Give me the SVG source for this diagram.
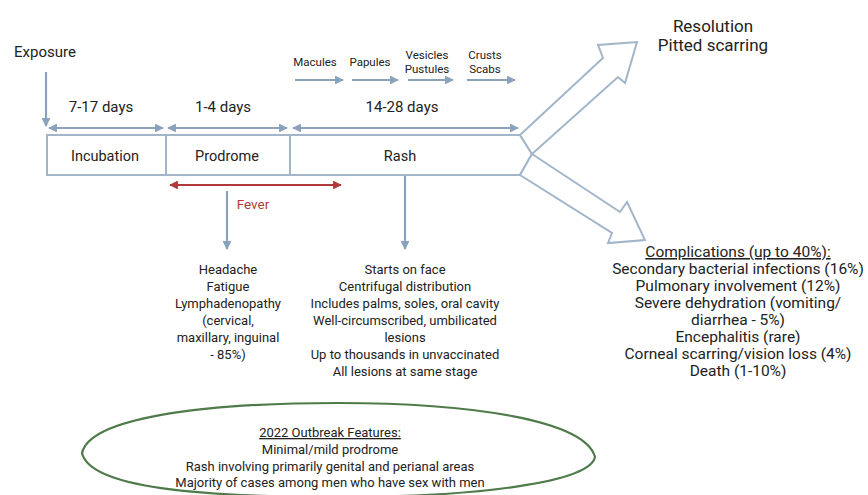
<svg xmlns="http://www.w3.org/2000/svg" width="868" height="495" viewBox="0 0 868 495">
<defs>
<marker id="ah" viewBox="0 0 10 10" refX="9" refY="5" markerWidth="4" markerHeight="4" orient="auto-start-reverse" markerUnits="strokeWidth">
<path d="M0,0 L10,5 L0,10 z" fill="#8aa2bc"/>
</marker>
<marker id="ahr" viewBox="0 0 10 10" refX="9" refY="5" markerWidth="4" markerHeight="4" orient="auto-start-reverse" markerUnits="strokeWidth">
<path d="M0,0 L10,5 L0,10 z" fill="#b03a3a"/>
</marker>
<style>
.t{font-family:Roboto,"Liberation Sans",Arial,sans-serif;fill:#222;text-anchor:middle}
.ln{stroke:#8aa2bc;stroke-width:2.2;fill:none}
.ol{stroke:#a2b5c9;stroke-width:2;fill:#fff;stroke-linejoin:miter}
.u{text-decoration:underline}
</style>
</defs>
<rect width="868" height="495" fill="#fff"/>

<g id="connectors">
<line class="ln" x1="46" y1="72" x2="46" y2="126" marker-end="url(#ah)"/>
<line class="ln" x1="49" y1="128" x2="163" y2="128" marker-start="url(#ah)" marker-end="url(#ah)"/>
<line class="ln" x1="168" y1="128" x2="287" y2="128" marker-start="url(#ah)" marker-end="url(#ah)"/>
<line class="ln" x1="293" y1="128" x2="518" y2="128" marker-start="url(#ah)" marker-end="url(#ah)"/>
<line class="ln" x1="295" y1="80" x2="343" y2="80" marker-end="url(#ah)"/>
<line class="ln" x1="352" y1="80" x2="398" y2="80" marker-end="url(#ah)"/>
<line class="ln" x1="408" y1="80" x2="453" y2="80" marker-end="url(#ah)"/>
<line class="ln" x1="467" y1="80" x2="515" y2="80" marker-end="url(#ah)"/>
<line x1="170" y1="185" x2="341" y2="185" stroke="#b03a3a" stroke-width="2.2" marker-start="url(#ahr)" marker-end="url(#ahr)"/>
<line class="ln" x1="227" y1="191" x2="227" y2="249" marker-end="url(#ah)"/>
<line class="ln" x1="405" y1="176" x2="405" y2="249" marker-end="url(#ah)"/>
</g>

<g id="timeline">
<path class="ol" d="M47,135 L520,135 L532,154 L520,175 L47,175 Z"/>
<line class="ol" x1="166" y1="135" x2="166" y2="175"/>
<line class="ol" x1="290" y1="135" x2="290" y2="175"/>
<path class="ol" d="M520,135 L603,58 L598,45 L637,42 L625,83 L618,77 L532,154 Z"/>
<path class="ol" d="M532,154 L620,212 L627,202 L645,240 L608,243 L612,233 L520,175 Z"/>
</g>

<g id="exposure"><text class="t" x="45" y="57" font-size="15">Exposure</text></g>
<g id="incubation">
<text class="t" x="101" y="112" font-size="15">7-17 days</text>
<text class="t" x="105" y="161" font-size="14.5">Incubation</text>
</g>
<g id="prodrome">
<text class="t" x="223" y="112" font-size="15">1-4 days</text>
<text class="t" x="227" y="161" font-size="14.5">Prodrome</text>
</g>
<g id="rash">
<text class="t" x="402" y="112" font-size="15">14-28 days</text>
<text class="t" x="400" y="161" font-size="14.5">Rash</text>
</g>
<g id="stages">
<text class="t" x="315" y="66" font-size="11.5">Macules</text>
<text class="t" x="370" y="66" font-size="11.5">Papules</text>
<text class="t" x="427" y="59" font-size="11.5">Vesicles</text>
<text class="t" x="427" y="73" font-size="11.5">Pustules</text>
<text class="t" x="485" y="59" font-size="11.5">Crusts</text>
<text class="t" x="485" y="73" font-size="11.5">Scabs</text>
</g>
<g id="fever"><text class="t" x="253" y="209" font-size="13.5" style="fill:#b03a3a">Fever</text></g>

<g id="prodrome-symptoms">
<text class="t" x="228" y="274" font-size="13">Headache</text>
<text class="t" x="228" y="291" font-size="13">Fatigue</text>
<text class="t" x="228" y="308" font-size="13">Lymphadenopathy</text>
<text class="t" x="228" y="325" font-size="13">(cervical,</text>
<text class="t" x="228" y="342" font-size="13">maxillary, inguinal</text>
<text class="t" x="228" y="359" font-size="13">- 85%)</text>
</g>
<g id="rash-features">
<text class="t" x="405" y="274" font-size="13">Starts on face</text>
<text class="t" x="405" y="291" font-size="13">Centrifugal distribution</text>
<text class="t" x="405" y="308" font-size="13">Includes palms, soles, oral cavity</text>
<text class="t" x="405" y="325" font-size="13">Well-circumscribed, umbilicated</text>
<text class="t" x="405" y="342" font-size="13">lesions</text>
<text class="t" x="405" y="359" font-size="13">Up to thousands in unvaccinated</text>
<text class="t" x="405" y="376" font-size="13">All lesions at same stage</text>
</g>

<g id="resolution">
<text class="t" x="713" y="32" font-size="17">Resolution</text>
<text class="t" x="713" y="51" font-size="17">Pitted scarring</text>
</g>

<g id="complications">
<text class="t u" x="738" y="257" font-size="15.5">Complications (up to 40%):</text>
<text class="t" x="738" y="274" font-size="15.5">Secondary bacterial infections (16%)</text>
<text class="t" x="738" y="291" font-size="15.5">Pulmonary involvement (12%)</text>
<text class="t" x="738" y="308" font-size="15.5">Severe dehydration (vomiting/</text>
<text class="t" x="738" y="325" font-size="15.5">diarrhea - 5%)</text>
<text class="t" x="738" y="342" font-size="15.5">Encephalitis (rare)</text>
<text class="t" x="738" y="359" font-size="15.5">Corneal scarring/vision loss (4%)</text>
<text class="t" x="738" y="376" font-size="15.5">Death (1-10%)</text>
</g>

<g id="outbreak">
<path d="M82,453 C90,418 200,403 338,403 C470,403 585,420 595,457 C590,482 480,497 338,497 C200,497 90,488 82,453 Z" fill="none" stroke="#4f7b4a" stroke-width="2.2"/>
<text class="t u" x="330" y="437" font-size="13">2022 Outbreak Features:</text>
<text class="t" x="330" y="454" font-size="13">Minimal/mild prodrome</text>
<text class="t" x="330" y="471" font-size="13">Rash involving primarily genital and perianal areas</text>
<text class="t" x="330" y="487" font-size="13">Majority of cases among men who have sex with men</text>
</g>
</svg>
